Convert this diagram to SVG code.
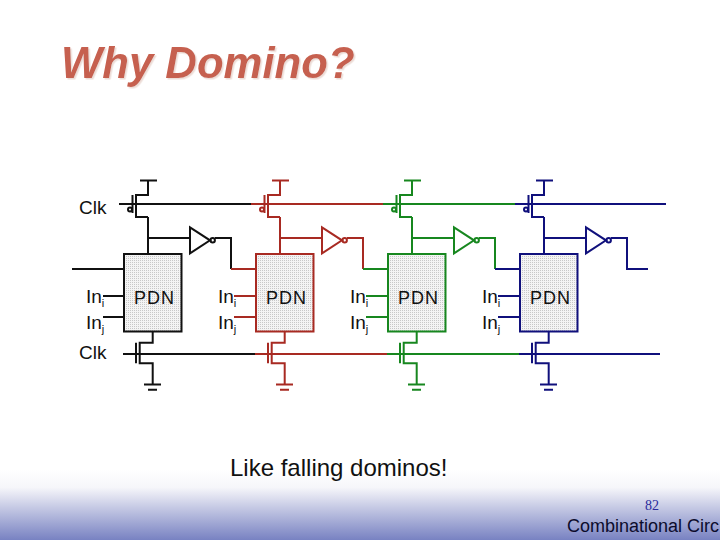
<svg xmlns="http://www.w3.org/2000/svg" xmlns:xlink="http://www.w3.org/1999/xlink" width="720" height="540" viewBox="0 0 720 540">
<style>
text{font-family:"Liberation Sans",Arial,sans-serif;fill:#111}
.l{font-size:19px}
.p{font-size:18px;letter-spacing:1px}
.s{font-size:11px}
.k{stroke:#111}.r{stroke:#a82a22}.g{stroke:#17871f}.b{stroke:#10107c}
.w{fill:none;stroke-width:2}
.d{fill:none;stroke-width:2}
.box{stroke-width:2;fill:url(#dots)}
</style>
<defs>
<linearGradient id="bg" x1="0" y1="0" x2="0" y2="1">
<stop offset="0" stop-color="#ffffff"/><stop offset=".25" stop-color="#f6f6fa"/><stop offset=".55" stop-color="#c3c7e3"/><stop offset="1" stop-color="#7882c2"/>
</linearGradient>
<pattern id="dots" width="2" height="2" patternUnits="userSpaceOnUse">
<rect width="2" height="2" fill="#f4f4f4"/><rect width="1" height="1" fill="#c8c8c8"/>
</pattern>
<filter id="sh" x="-5%" y="-10%" width="110%" height="125%"><feDropShadow dx="1.500" dy="1.500" stdDeviation=".6" flood-color="#ecdcd6"/></filter>
<g id="pmos" class="d"><path d="M140 180.5H157M148 180.5V195H136V217H148M132.5 195V213"/><circle cx="130" cy="209.5" r="2"/></g>
<g id="nmos" class="d"><path d="M152.7 332V342.7H139.7V363.3H152.7V384.5M136 342.7V363.3M144 384.5H161M148 389.7H157"/></g>
<g id="inv" class="d"><path d="M190 227.3V253.3L210 240.3Z"/><circle cx="212.7" cy="240.3" r="2.2"/></g>
</defs>
<rect x="0" y="470" width="720" height="70" fill="url(#bg)"/>
<text x="61" y="78" font-size="43.700" font-weight="bold" font-style="italic" style="fill:#c6604f" filter="url(#sh)">Why Domino?</text>

<g id="connectors">
<path class="w k" d="M119 204H256M123 354H257M148 217V254M148 238H190M215 238H231V269M72 269H124M103 296H124M103 317H124"/>
<path class="w r" d="M231 269H256M251 204H388M255 354H389M280 217V254M280 238H322M347 238H363V269M234 296H256M234 317H256"/>
<path class="w g" d="M363 269H388M383 204H520M387 354H521M412 217V254M412 238H454M479 238H495V269M366 296H388M366 317H388"/>
<path class="w b" d="M495 269H520M515 204H666M519 354H660M544 217V254M544 238H586M611 238H627V269H648M498 296H520M498 317H520"/>
</g>

<g id="nodes">
<g id="stage1">
<use xlink:href="#pmos" class="k"/>
<use xlink:href="#nmos" class="k"/>
<use xlink:href="#inv" class="k"/>
<g id="pdn1"><rect x="124" y="254" width="57.500" height="77.500" class="box k"/><text class="p" x="134" y="304">PDN</text></g>
<text class="l" x="86" y="303">In<tspan class="s" dy="4">i</tspan></text>
<text class="l" x="86" y="329">In<tspan class="s" dy="4">j</tspan></text>
<text class="l" x="79" y="214">Clk</text>
<text class="l" x="79" y="359">Clk</text>
</g>
<g id="stage2" transform="translate(132 0)">
<use xlink:href="#pmos" class="r"/>
<use xlink:href="#nmos" class="r"/>
<use xlink:href="#inv" class="r"/>
<g id="pdn2"><rect x="124" y="254" width="57.500" height="77.500" class="box r"/><text class="p" x="134" y="304">PDN</text></g>
<text class="l" x="86" y="303">In<tspan class="s" dy="4">i</tspan></text>
<text class="l" x="86" y="329">In<tspan class="s" dy="4">j</tspan></text>
</g>
<g id="stage3" transform="translate(264 0)">
<use xlink:href="#pmos" class="g"/>
<use xlink:href="#nmos" class="g"/>
<use xlink:href="#inv" class="g"/>
<g id="pdn3"><rect x="124" y="254" width="57.500" height="77.500" class="box g"/><text class="p" x="134" y="304">PDN</text></g>
<text class="l" x="86" y="303">In<tspan class="s" dy="4">i</tspan></text>
<text class="l" x="86" y="329">In<tspan class="s" dy="4">j</tspan></text>
</g>
<g id="stage4" transform="translate(396 0)">
<use xlink:href="#pmos" class="b"/>
<use xlink:href="#nmos" class="b"/>
<use xlink:href="#inv" class="b"/>
<g id="pdn4"><rect x="124" y="254" width="57.500" height="77.500" class="box b"/><text class="p" x="134" y="304">PDN</text></g>
<text class="l" x="86" y="303">In<tspan class="s" dy="4">i</tspan></text>
<text class="l" x="86" y="329">In<tspan class="s" dy="4">j</tspan></text>
</g>
</g>

<text x="230" y="476" font-size="24">Like falling dominos!</text>
<text x="645" y="510" font-size="14" style="font-family:'Liberation Serif',serif;fill:#2a2a9c">82</text>
<text x="567" y="532" font-size="18" style="fill:#0c0c2c">Combinational Circ</text>
</svg>
